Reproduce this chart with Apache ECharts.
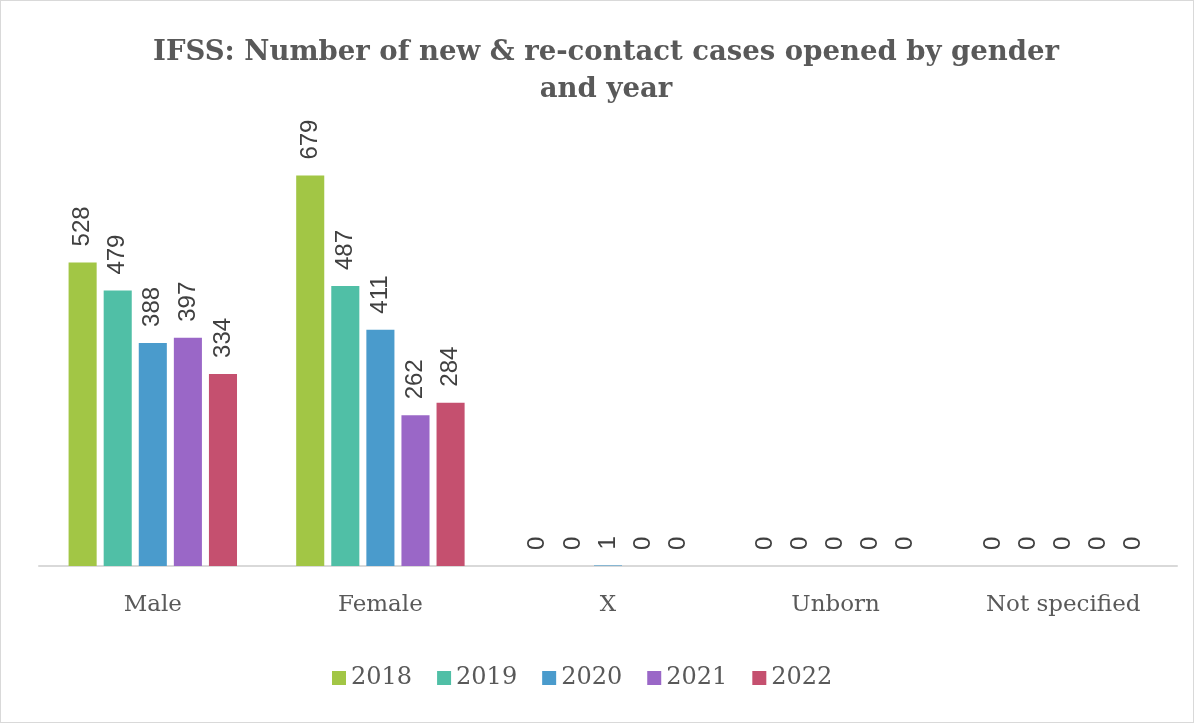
<!DOCTYPE html>
<html>
<head>
<meta charset="utf-8">
<script src="https://cdn.jsdelivr.net/npm/echarts@6/dist/echarts.min.js"></script>
<style>
  html, body { margin: 0; padding: 0; background: #fff; }
  #chart { width: 1194px; height: 723px; box-sizing: border-box; border: 1px solid #d9d9d9; }
</style>
</head>
<body>
<div id="chart"></div>
<script>
var categories = ['Male', 'Female', 'X', 'Unborn', 'Not specified'];
var years = ['2018', '2019', '2020', '2021', '2022'];
var v2018 = [528, 679, 0, 0, 0];
var v2019 = [479, 487, 0, 0, 0];
var v2020 = [388, 411, 1, 0, 0];
var v2021 = [397, 262, 0, 0, 0];
var v2022 = [334, 284, 0, 0, 0];
var colors = ['#a2c645', '#50bfa6', '#4a9bcc', '#9a67c7', '#c5506f'];

var values = [v2018, v2019, v2020, v2021, v2022];
var serif = '"DejaVu Serif", "Liberation Serif", serif';

var series = years.map(function (y, i) {
    return {
        name: y,
        type: 'bar',
        data: values[i],
        barGap: '25%',
        barCategoryGap: '26%',
        itemStyle: { color: colors[i] },
        label: {
            show: true,
            position: 'top',
            rotate: 90,
            align: 'left',
            verticalAlign: 'middle',
            distance: 16,
            color: '#404040',
            fontSize: 24,
            fontFamily: '"Liberation Sans", Arial, sans-serif'
        }
    };
});

var chart = echarts.init(document.getElementById('chart'));
chart.setOption({
    animation: false,
    color: colors,
    title: {
        text: 'IFSS: Number of new & re-contact cases opened by gender\nand year',
        left: 600,
        textAlign: 'center',
        top: 28,
        textStyle: {
            color: '#595959',
            fontSize: 27.5,
            fontWeight: 'bold',
            fontFamily: serif,
            lineHeight: 37
        }
    },
    legend: {
        bottom: 27,
        left: 326,
        itemWidth: 14,
        itemHeight: 14,
        itemGap: 25,
        icon: 'rect',
        textStyle: { color: '#595959', fontSize: 24, fontFamily: serif }
    },
    grid: { left: 38, right: 16, top: 105, bottom: 156 },
    xAxis: {
        type: 'category',
        data: categories,
        axisLine: { lineStyle: { color: '#d9d9d9', width: 2 } },
        axisTick: { show: false },
        axisLabel: { color: '#595959', fontSize: 23, fontFamily: serif, margin: 28 }
    },
    yAxis: {
        type: 'value',
        min: 0,
        max: 800,
        show: false,
        splitLine: { show: false }
    },
    series: series
});
</script>
</body>
</html>
